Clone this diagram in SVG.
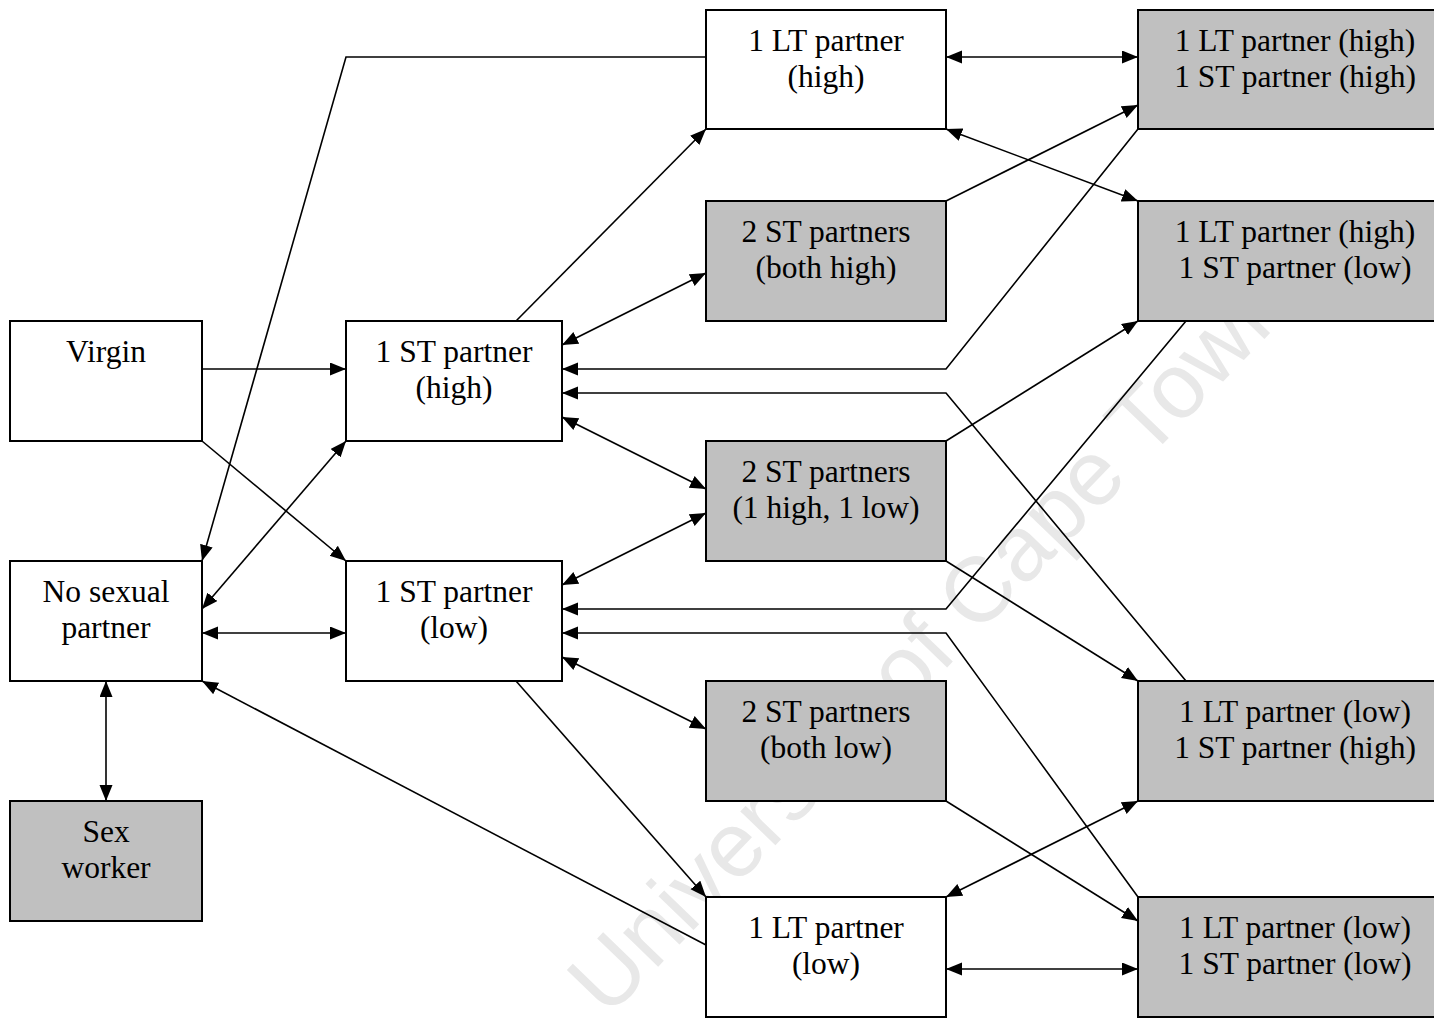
<svg xmlns="http://www.w3.org/2000/svg" width="1434" height="1018" viewBox="0 0 1434 1018">
<style>
.box{stroke:#000;stroke-width:2}
.w{fill:#fff}
.g{fill:#c0c0c0}
.t{font-family:"Liberation Serif","Times New Roman",serif;font-size:31.5px;fill:#000;text-anchor:middle}
.c{fill:none;stroke:#000;stroke-width:1.6}
.e{marker-end:url(#ah)}
.b{marker-start:url(#ah);marker-end:url(#ah)}
.wm{font-family:"Liberation Sans",Arial,sans-serif;font-size:92px;fill:#e8e8e8;text-anchor:middle}
</style>
<defs>
<marker id="ah" markerUnits="userSpaceOnUse" markerWidth="17" markerHeight="14" refX="16" refY="6.5" orient="auto-start-reverse">
<path d="M0,0 L16,6.5 L0,13 z" fill="#000"/>
</marker>
</defs>
<rect width="1434" height="1018" fill="#fff"/>
<g id="watermark" transform="translate(930,642) rotate(-46)">
<text class="wm" x="0" y="30">University of Cape Town</text>
</g>
<g id="connectors">
<path class="c e" d="M202,369 L346,369"/>
<path class="c e" d="M202,441 L346,561"/>
<path class="c e" d="M706,57 L346,57 L202,561"/>
<path class="c e" d="M516,321 L706,129"/>
<path class="c b" d="M562,345 L706,273"/>
<path class="c e" d="M946,201 L1138,105"/>
<path class="c e" d="M1138,129 L946,369 L562,369"/>
<path class="c e" d="M1186,681 L946,393 L562,393"/>
<path class="c b" d="M562,417 L706,489"/>
<path class="c e" d="M946,441 L1138,321"/>
<path class="c e" d="M1186,321 L946,609 L562,609"/>
<path class="c e" d="M1138,897 L946,633 L562,633"/>
<path class="c b" d="M562,585 L706,513"/>
<path class="c b" d="M562,657 L706,729"/>
<path class="c e" d="M946,561 L1138,681"/>
<path class="c e" d="M946,801 L1138,921"/>
<path class="c e" d="M516,681 L706,897"/>
<path class="c e" d="M706,945 L202,681"/>
<path class="c b" d="M946,897 L1138,801"/>
<path class="c b" d="M946,969 L1138,969"/>
<path class="c b" d="M946,57 L1138,57"/>
<path class="c b" d="M946,129 L1138,201"/>
<path class="c b" d="M202,633 L346,633"/>
<path class="c b" d="M202,609 L346,441"/>
<path class="c b" d="M106,681 L106,801"/>
</g>
<g id="virgin"><rect class="box w" x="10" y="321" width="192" height="120"/><text class="t" x="106" y="362">Virgin</text></g>
<g id="no-sexual-partner"><rect class="box w" x="10" y="561" width="192" height="120"/><text class="t" x="106" y="602">No sexual</text><text class="t" x="106" y="638">partner</text></g>
<g id="sex-worker"><rect class="box g" x="10" y="801" width="192" height="120"/><text class="t" x="106" y="842">Sex</text><text class="t" x="106" y="878">worker</text></g>
<g id="st-high"><rect class="box w" x="346" y="321" width="216" height="120"/><text class="t" x="454" y="362">1 ST partner</text><text class="t" x="454" y="398">(high)</text></g>
<g id="st-low"><rect class="box w" x="346" y="561" width="216" height="120"/><text class="t" x="454" y="602">1 ST partner</text><text class="t" x="454" y="638">(low)</text></g>
<g id="lt-high"><rect class="box w" x="706" y="10" width="240" height="119"/><text class="t" x="826" y="51">1 LT partner</text><text class="t" x="826" y="87">(high)</text></g>
<g id="st2-both-high"><rect class="box g" x="706" y="201" width="240" height="120"/><text class="t" x="826" y="242">2 ST partners</text><text class="t" x="826" y="278">(both high)</text></g>
<g id="st2-mixed"><rect class="box g" x="706" y="441" width="240" height="120"/><text class="t" x="826" y="482">2 ST partners</text><text class="t" x="826" y="518">(1 high, 1 low)</text></g>
<g id="st2-both-low"><rect class="box g" x="706" y="681" width="240" height="120"/><text class="t" x="826" y="722">2 ST partners</text><text class="t" x="826" y="758">(both low)</text></g>
<g id="lt-low"><rect class="box w" x="706" y="897" width="240" height="120"/><text class="t" x="826" y="938">1 LT partner</text><text class="t" x="826" y="974">(low)</text></g>
<g id="lth-sth"><rect class="box g" x="1138" y="10" width="316" height="119"/><text class="t" x="1295" y="51">1 LT partner (high)</text><text class="t" x="1295" y="87">1 ST partner (high)</text></g>
<g id="lth-stl"><rect class="box g" x="1138" y="201" width="316" height="120"/><text class="t" x="1295" y="242">1 LT partner (high)</text><text class="t" x="1295" y="278">1 ST partner (low)</text></g>
<g id="ltl-sth"><rect class="box g" x="1138" y="681" width="316" height="120"/><text class="t" x="1295" y="722">1 LT partner (low)</text><text class="t" x="1295" y="758">1 ST partner (high)</text></g>
<g id="ltl-stl"><rect class="box g" x="1138" y="897" width="316" height="120"/><text class="t" x="1295" y="938">1 LT partner (low)</text><text class="t" x="1295" y="974">1 ST partner (low)</text></g>
</svg>
